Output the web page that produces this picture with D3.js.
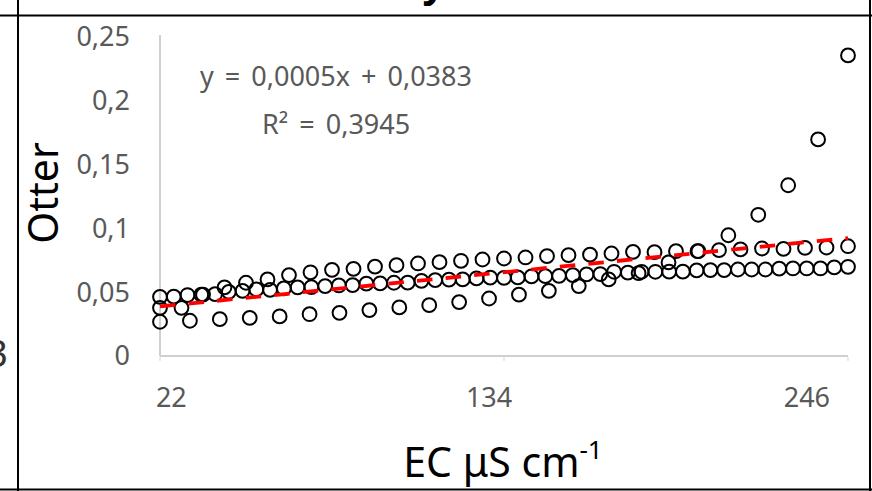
<!DOCTYPE html>
<html>
<head>
<meta charset="utf-8">
<script src="https://cdn.jsdelivr.net/npm/d3@7"></script>
<style>
  html, body { margin: 0; padding: 0; background: #fff; }
  svg { display: block; }
  text { font-family: "Noto Sans", "Open Sans", sans-serif; }
</style>
</head>
<body>
<svg id="chart" width="872" height="491"></svg>
<script>
// Otter index against conductivity: three sampled runs, each spread across the EC span
const lowSeries = [0.0268, 0.0276, 0.0288, 0.0298, 0.0310, 0.0327, 0.0338, 0.0359, 0.0380, 0.0398,
  0.0422, 0.0450, 0.0480, 0.0510, 0.0547, 0.0599, 0.0648, 0.0732, 0.0820, 0.0945,
  0.1105, 0.1336, 0.1695, 0.2352];

const midSeries = [0.0463, 0.0465, 0.0477, 0.0480, 0.0484, 0.0502, 0.0510, 0.0521, 0.0517, 0.0529,
  0.0537, 0.0539, 0.0547, 0.0552, 0.0555, 0.0566, 0.0568, 0.0573, 0.0574, 0.0588,
  0.0594, 0.0598, 0.0599, 0.0607, 0.0613, 0.0611, 0.0615, 0.0623, 0.0625, 0.0627,
  0.0633, 0.0639, 0.0641, 0.0659, 0.0652, 0.0659, 0.0659, 0.0660, 0.0660, 0.0670,
  0.0672, 0.0672, 0.0677, 0.0677, 0.0677, 0.0684, 0.0685, 0.0685, 0.0685, 0.0693,
  0.0698];

const highSeries = [0.0377, 0.0377, 0.0480, 0.0537, 0.0573, 0.0599, 0.0633, 0.0655, 0.0674, 0.0682,
  0.0699, 0.0711, 0.0724, 0.0734, 0.0745, 0.0755, 0.0763, 0.0771, 0.0781, 0.0789,
  0.0793, 0.0802, 0.0815, 0.0813, 0.0820, 0.0820, 0.0828, 0.0834, 0.0841, 0.0838,
  0.0846, 0.0849, 0.0859];

// linear trend over all observations (x = observation number)
const trendSlope = 0.0005;
const trendIntercept = 0.0383;
const trendLabel = "y = 0,0005x + 0,0383";
const r2Label = "R² = 0,3945";

const yTicks = [0, 0.05, 0.1, 0.15, 0.2, 0.25];
const yTickLabels = ["0", "0,05", "0,1", "0,15", "0,2", "0,25"];
const ecDomain = [18, 260.5];
const ecTicks = [22, 134, 246];
const ecTickLabels = ["22", "134", "246"];

const svg = d3.select("#chart");
const W = 872, H = 491;
const plot = { left: 160, right: 848, top: 36.5, bottom: 356 };

svg.append("rect").attr("width", W).attr("height", H).attr("fill", "#fff");

const nObs = lowSeries.length + midSeries.length + highSeries.length;
const x = d3.scaleLinear().domain([1, nObs]).range([plot.left, plot.right]);
const ec = d3.scaleLinear().domain(ecDomain).range([plot.left, plot.right]);
const y = d3.scaleLinear().domain([0, 0.25]).range([plot.bottom, plot.top]);

// axis lines
svg.append("line")
  .attr("x1", plot.left).attr("x2", plot.left)
  .attr("y1", plot.top - 1.5).attr("y2", plot.bottom)
  .attr("stroke", "#d0d0d0").attr("stroke-width", 2);
svg.append("line")
  .attr("x1", plot.left).attr("x2", plot.right)
  .attr("y1", plot.bottom).attr("y2", plot.bottom)
  .attr("stroke", "#d0d0d0").attr("stroke-width", 2);

// small tick marks under the horizontal axis
svg.selectAll(".xtick").data([plot.left, (plot.left + plot.right) / 2, plot.right])
  .enter().append("line")
  .attr("x1", d => d).attr("x2", d => d)
  .attr("y1", plot.bottom + 1).attr("y2", plot.bottom + 5)
  .attr("stroke", "#e4e4e4").attr("stroke-width", 1.5);

// y tick labels
svg.selectAll(".ylab").data(yTicks).enter().append("text")
  .attr("x", 130).attr("y", d => y(d))
  .attr("dy", "0.35em")
  .attr("text-anchor", "end")
  .attr("font-size", 27)
  .attr("fill", "#595959")
  .text((d, i) => yTickLabels[i]);

// x tick labels
svg.selectAll(".xlab").data(ecTicks).enter().append("text")
  .attr("x", d => ec(d)).attr("y", 398)
  .attr("dy", "0.35em")
  .attr("text-anchor", "middle")
  .attr("font-size", 27)
  .attr("fill", "#595959")
  .text((d, i) => ecTickLabels[i]);

// markers
function drawSeries(values) {
  const n = values.length;
  const pos = d3.scaleLinear().domain([0, n - 1]).range([1, nObs]);
  svg.append("g").selectAll("circle").data(values).enter().append("circle")
    .attr("cx", (d, i) => x(pos(i)))
    .attr("cy", d => y(d))
    .attr("r", 6.9)
    .attr("fill", "none")
    .attr("stroke", "#000")
    .attr("stroke-width", 2);
}
drawSeries(lowSeries);
drawSeries(midSeries);
drawSeries(highSeries);

// trend line
svg.append("line")
  .attr("x1", x(1)).attr("y1", y(trendSlope * 1 + trendIntercept))
  .attr("x2", x(nObs)).attr("y2", y(trendSlope * nObs + trendIntercept))
  .attr("stroke", "#ff0000").attr("stroke-width", 3.8)
  .attr("stroke-dasharray", "15.5,13.2");

// trend equation
svg.append("text").attr("x", 200).attr("y", 86)
  .attr("font-size", 27).attr("fill", "#595959")
  .attr("word-spacing", 4)
  .text(trendLabel);
svg.append("text").attr("x", 262).attr("y", 134)
  .attr("font-size", 27).attr("fill", "#595959")
  .attr("word-spacing", 4)
  .text(r2Label);

// axis titles
svg.append("text")
  .attr("transform", "translate(58,193) rotate(-90)")
  .attr("text-anchor", "middle")
  .attr("font-size", 41)
  .attr("fill", "#000")
  .text("Otter");

const xt = svg.append("text")
  .attr("x", 503).attr("y", 477)
  .attr("text-anchor", "middle")
  .attr("font-size", 41)
  .attr("fill", "#000");
xt.append("tspan").text("EC μS cm");
xt.append("tspan").attr("font-size", 26).attr("dy", -18).text("-1");

// table frame around the chart cell
const frame = svg.append("g").attr("stroke", "#000").attr("stroke-width", 2);
frame.append("line").attr("x1", 18).attr("x2", 18).attr("y1", 0).attr("y2", H);
frame.append("line").attr("x1", 870).attr("x2", 870).attr("y1", 0).attr("y2", H);
frame.append("line").attr("x1", 0).attr("x2", W).attr("y1", 15.5).attr("y2", 15.5);
frame.append("line").attr("x1", 0).attr("x2", W).attr("y1", 489.5).attr("y2", 489.5);

// neighbouring cell contents clipped by the frame
svg.append("text").attr("x", 434).attr("y", -3)
  .attr("text-anchor", "middle")
  .attr("font-size", 40).attr("font-weight", "bold").attr("fill", "#000")
  .text("y");
svg.append("text").attr("x", 8).attr("y", 367)
  .attr("text-anchor", "end")
  .attr("font-size", 38).attr("fill", "#333")
  .text("3");
</script>
</body>
</html>
